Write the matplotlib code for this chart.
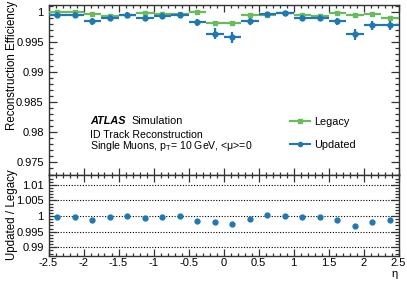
import matplotlib
matplotlib.use("Agg")
import matplotlib.pyplot as plt
import numpy as np
from matplotlib.ticker import MultipleLocator, FixedLocator
from matplotlib.lines import Line2D

plt.rcParams['font.family'] = ['Liberation Sans', 'DejaVu Sans']
plt.rcParams['axes.unicode_minus'] = False
plt.rcParams['mathtext.fontset'] = 'custom'
plt.rcParams['mathtext.rm'] = 'Liberation Sans'
plt.rcParams['mathtext.it'] = 'Liberation Sans:italic'
plt.rcParams['mathtext.bf'] = 'Liberation Sans:bold'

# ---- data ----
eta = [-2.375, -2.125, -1.875, -1.625, -1.375, -1.125, -0.875, -0.625, -0.375, -0.125,
       0.125, 0.375, 0.625, 0.875, 1.125, 1.375, 1.625, 1.875, 2.125, 2.375]
eta_halfwidth = 0.125
legacy = [1.0000, 1.0000, 0.9997, 0.9993, 0.9995, 0.9998, 0.9997, 0.9997, 1.0000, 0.9982,
          0.9982, 0.9995, 0.9995, 0.9998, 0.9995, 0.9994, 0.9999, 0.9995, 0.9997, 0.9991]
legacy_err = [0.0001, 0.0001, 0.0002, 0.0002, 0.0002, 0.0001, 0.0002, 0.0002, 0.0001, 0.0004,
              0.0004, 0.0002, 0.0002, 0.0002, 0.0002, 0.0002, 0.0001, 0.0002, 0.0002, 0.0003]
updated = [0.9996, 0.9996, 0.9985, 0.9990, 0.9996, 0.9991, 0.9994, 0.9996, 0.9983, 0.9964,
           0.9958, 0.9985, 0.9997, 0.9998, 0.9991, 0.9990, 0.9985, 0.9963, 0.9978, 0.9978]
updated_err = [0.0004, 0.0004, 0.0006, 0.0005, 0.0004, 0.0005, 0.0005, 0.0004, 0.0006, 0.0009,
               0.0009, 0.0006, 0.0004, 0.0003, 0.0005, 0.0005, 0.0006, 0.0009, 0.0008, 0.0008]
ratio = [u / l for u, l in zip(updated, legacy)]

main_yticks = [0.975, 0.98, 0.985, 0.99, 0.995, 1.0]
main_yticklabels = ['0.975', '0.98', '0.985', '0.99', '0.995', '1']
ratio_yticks = [0.99, 0.995, 1.0, 1.005, 1.01]
ratio_yticklabels = ['0.99', '0.995', '1', '1.005', '1.01']
xticks = [-2.5, -2, -1.5, -1, -0.5, 0, 0.5, 1, 1.5, 2, 2.5]
xticklabels = ['-2.5', '-2', '-1.5', '-1', '-0.5', '0', '0.5', '1', '1.5', '2', '2.5']

GREEN = '#6abb5a'
BLUE = '#1f77b4'

W, H = 407, 292
fig = plt.figure(figsize=(W / 100, H / 100), dpi=100)

def px_axes(l, t, r, b):
    return fig.add_axes([l / W, 1 - b / H, (r - l) / W, (b - t) / H])

ax = px_axes(48.5, 5, 398.5, 174.5)
axr = px_axes(48.5, 174.5, 398.5, 255.7)

fs = 8.0

def style(a, ymaj_len, xmaj_len):
    for s in a.spines.values():
        s.set_linewidth(1.0)
        s.set_color('#333333')
    a.tick_params(which='both', direction='in', top=True, right=True, labelsize=fs,
                  color='#333333', width=0.9)
    a.tick_params(axis='y', which='major', length=ymaj_len)
    a.tick_params(axis='y', which='minor', length=ymaj_len / 2)
    a.tick_params(axis='x', which='major', length=xmaj_len)
    a.tick_params(axis='x', which='minor', length=xmaj_len / 2)
    a.set_xlim(-2.5, 2.5)
    a.xaxis.set_major_locator(FixedLocator(xticks))
    a.xaxis.set_minor_locator(MultipleLocator(0.1))

# main panel
ax.errorbar(eta, legacy, xerr=eta_halfwidth, yerr=legacy_err, fmt='s', color=GREEN,
            ms=3.3, elinewidth=1.6, capsize=0, zorder=3)
ax.errorbar(eta, updated, xerr=eta_halfwidth, yerr=updated_err, fmt='o', color=BLUE,
            ms=3.5, elinewidth=1.6, capsize=0, zorder=4)
ax.set_ylim(0.973, 1.0012)
ax.set_yticks(main_yticks)
ax.set_yticklabels(main_yticklabels)
ax.yaxis.set_minor_locator(MultipleLocator(0.001))
style(ax, 6.0, 5.0)
ax.tick_params(axis='x', labelbottom=False)

ax.text(0.1186, 0.317, 'ATLAS', transform=ax.transAxes, fontsize=7.8,
        fontweight='bold', fontstyle='italic', va='center')
ax.text(0.236, 0.317, 'Simulation', transform=ax.transAxes, fontsize=7.8, va='center')
ax.text(0.1186, 0.233, 'ID Track Reconstruction', transform=ax.transAxes, fontsize=7.6, va='center')
ax.text(0.1186, 0.168, r'Single Muons, p$_{\mathrm{T}}$= 10 GeV, <μ>=0',
        transform=ax.transAxes, fontsize=7.6, va='center')

handles = [Line2D([], [], color=GREEN, marker='s', ms=3.0, lw=1.5),
           Line2D([], [], color=BLUE, marker='o', ms=3.0, lw=1.5)]
ax.legend(handles, ['Legacy', 'Updated'], loc='center left',
          bbox_to_anchor=(0.69, 0.243), frameon=False,
          fontsize=7.8, handlelength=1.8, handletextpad=0.4, labelspacing=1.25,
          borderaxespad=0, borderpad=0)

fig.text(12 / W, 1 - 1 / H, 'Reconstruction Efficiency', rotation=90, ha='center',
         va='top', fontsize=8.3)

# ratio panel
axr.plot(eta, ratio, 'o', color=BLUE, ms=3.5, zorder=3)
axr.set_ylim(0.9873, 1.0133)
axr.set_yticks(ratio_yticks)
axr.set_yticklabels(ratio_yticklabels)
axr.yaxis.set_minor_locator(MultipleLocator(0.001))
for v in ratio_yticks:
    axr.axhline(v, color='k', ls=(0, (1, 1.5)), lw=0.8, zorder=1)
style(axr, 6.0, 5.0)
axr.set_xticklabels(xticklabels)
axr.tick_params(axis='x', pad=2)

fig.text(12 / W, 1 - 215 / H, 'Updated / Legacy', rotation=90, ha='center',
         va='center', fontsize=8.3)
fig.text(395 / W, 1 - 274 / H, 'η', ha='center', va='center', fontsize=fs)

fig.savefig('out.png', dpi=100)
